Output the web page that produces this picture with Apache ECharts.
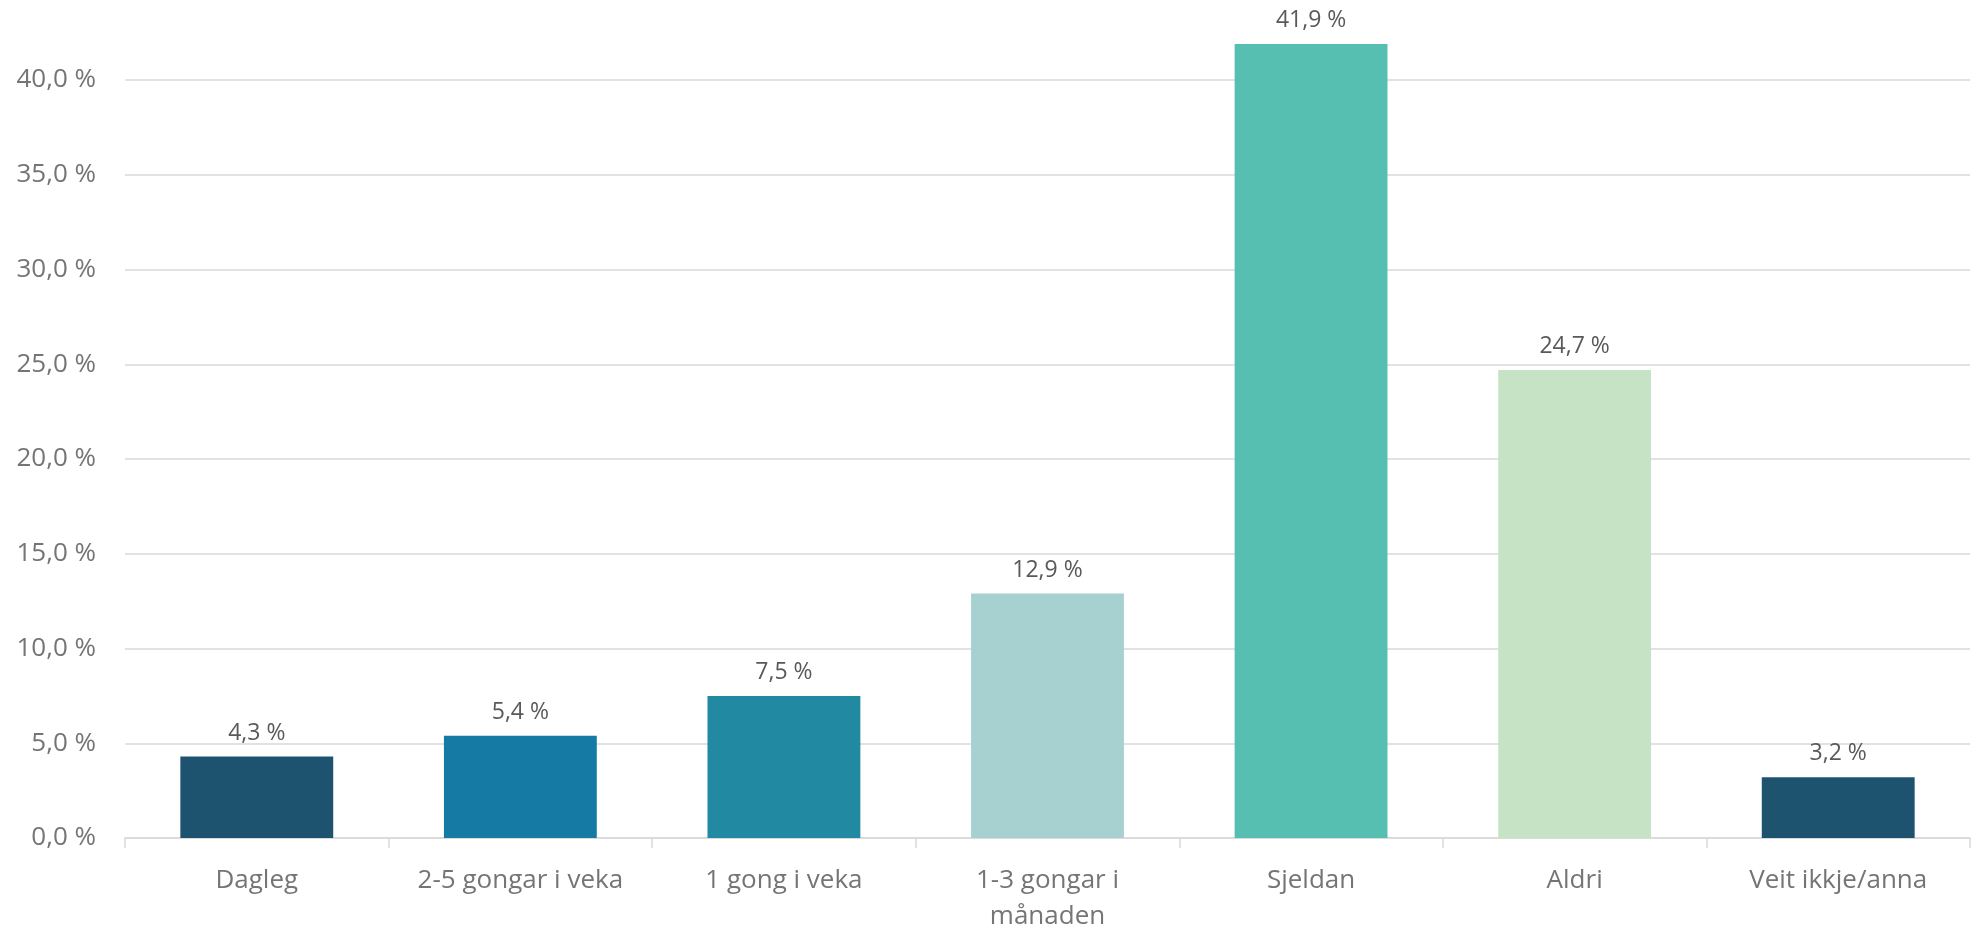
<!DOCTYPE html>
<html>
<head>
<meta charset="utf-8">
<title>Kor ofte</title>
<script src="https://cdn.jsdelivr.net/npm/echarts@6/dist/echarts.min.js"></script>
<style>
  html, body { margin: 0; padding: 0; background: #ffffff; }
  #chart { width: 1977px; height: 935px; }
</style>
</head>
<body>
<div id="chart"></div>
<script>
// Answer categories (x axis)
const categories = [
  'Dagleg',
  '2-5 gongar i veka',
  '1 gong i veka',
  '1-3 gongar i\nmånaden',
  'Sjeldan',
  'Aldri',
  'Veit ikkje/anna'
];

// Share of respondents, in percent
const shares = [4.3, 5.4, 7.5, 12.9, 41.9, 24.7, 3.2];

// One fill colour per bar
const barColors = ['#1e5370', '#167ba4', '#2189a2', '#a6d1d0', '#56bfb2', '#c7e3c6', '#1e5370'];

// Value axis ticks
const yTicks = [0, 5, 10, 15, 20, 25, 30, 35, 40];

const pct = v => v.toFixed(1).replace('.', ',') + ' %';
const font = '"Open Sans", "Noto Sans", sans-serif';

const chart = echarts.init(document.getElementById('chart'), null, { renderer: 'canvas' });

chart.setOption({
  animation: false,
  backgroundColor: '#ffffff',
  grid: { left: 125, right: 7, top: 80, bottom: 92, containLabel: false },
  xAxis: {
    type: 'category',
    data: categories,
    boundaryGap: true,
    axisLine: { show: true, lineStyle: { color: '#d9d9d9', width: 1.5 } },
    axisTick: { show: true, length: 10, alignWithLabel: false, lineStyle: { color: '#d9d9d9', width: 1.5 } },
    axisLabel: {
      interval: 0,
      margin: 25,
      color: '#757575',
      fontFamily: font,
      fontSize: 26,
      lineHeight: 36
    },
    splitLine: { show: false }
  },
  yAxis: {
    type: 'value',
    min: yTicks[0],
    max: yTicks[yTicks.length - 1],
    interval: yTicks[1] - yTicks[0],
    axisLine: { show: false },
    axisTick: { show: false },
    axisLabel: {
      margin: 29,
      color: '#757575',
      fontFamily: font,
      fontSize: 26,
      formatter: v => pct(v)
    },
    splitLine: { show: true, lineStyle: { color: '#d9d9d9', width: 1.5 } }
  },
  series: [{
    type: 'bar',
    clip: false,
    barCategoryGap: '42%',
    data: shares.map((v, i) => ({ value: v, itemStyle: { color: barColors[i] } })),
    label: {
      show: true,
      position: 'top',
      distance: 12,
      color: '#595959',
      fontFamily: font,
      fontSize: 23,
      formatter: p => pct(p.value)
    }
  }]
});
</script>
</body>
</html>
